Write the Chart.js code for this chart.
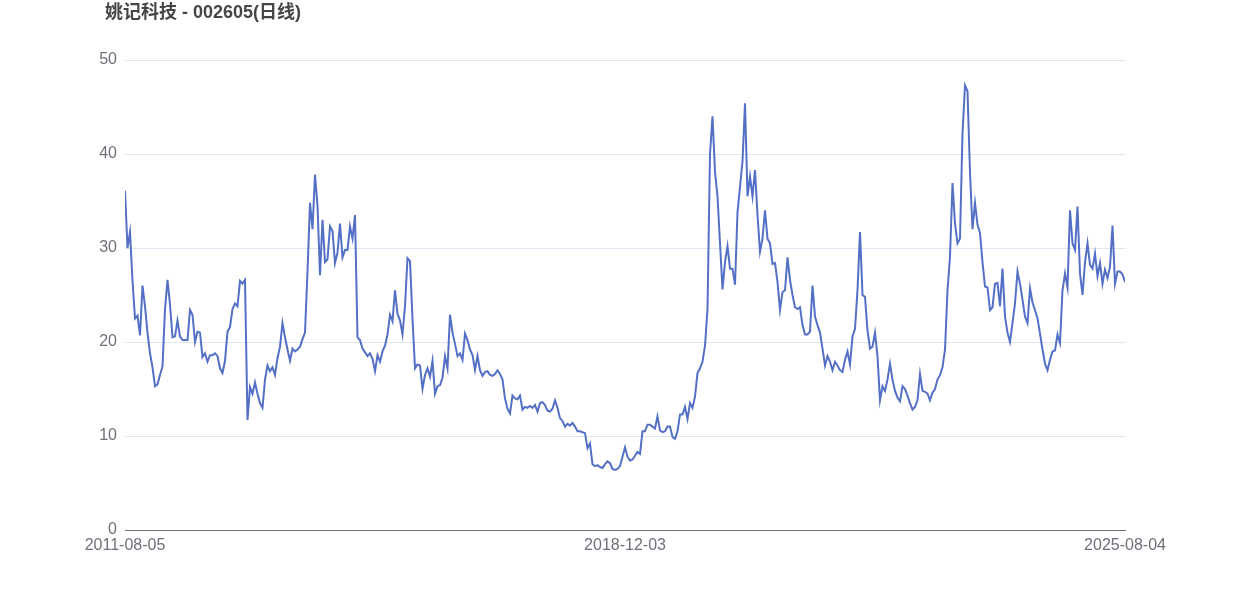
<!DOCTYPE html>
<html>
<head>
<meta charset="utf-8">
<script src="https://cdn.jsdelivr.net/npm/chart.js@4"></script>
<style>
  body { margin: 0; background: #fff; }
  #wrap { width: 1250px; height: 600px; position: relative; }
</style>
</head>
<body>
<div id="wrap"><canvas id="priceChart"></canvas></div>
<script>
// 姚记科技 daily close (evenly spaced samples)
const titleText = '姚记科技 - 002605(日线)';
const tickLabels = ['2011-08-05', '2018-12-03', '2025-08-04'];
const yTicks = [0, 10, 20, 30, 40, 50];

const prices2011to2014 = [
    36.1, 30.0, 31.7, 26.5, 22.5, 22.8, 20.7, 26.0, 23.8, 21.0,
    18.8, 17.3, 15.3, 15.5, 16.5, 17.4, 23.5, 26.6, 24.0, 20.5,
    20.6, 22.3, 20.6, 20.2, 20.2, 20.2, 23.4, 22.9, 20.0, 21.1,
    21.0, 18.4, 18.8, 17.9, 18.6, 18.6, 18.8, 18.5, 17.2, 16.7,
    18.0, 21.1, 21.6, 23.5, 24.1, 23.8, 26.5, 26.2, 26.6, 11.7,
    15.2, 14.5, 15.7, 14.5, 13.5, 13.0, 16.0, 17.5, 16.9, 17.3,
    16.5, 18.3, 19.5, 22.0, 20.5, 19.2, 18.0, 19.3, 19.0, 19.2,
    19.5
];
const prices2015to2017 = [
    20.3, 21.0, 27.5, 34.8, 32.0, 37.8, 34.5, 27.1, 33.0, 28.5,
    28.8, 32.3, 31.8, 28.4, 29.5, 32.6, 29.0, 29.8, 29.8, 32.3,
    31.0, 33.5, 20.5, 20.2, 19.3, 18.9, 18.5, 18.8, 18.2, 16.9,
    18.6, 17.9, 19.0, 19.6, 20.8, 22.9, 22.2, 25.5, 23.0, 22.3,
    20.8, 23.8, 28.9, 28.6, 22.5, 17.2, 17.6, 17.5, 15.0, 16.5,
    17.2, 16.3, 18.0, 14.5, 15.3, 15.4, 16.2, 18.5, 17.2, 22.9,
    21.0, 19.8, 18.5, 18.8, 18.1, 20.9, 20.2, 19.2
];
const prices2018to2019 = [
    18.6, 17.0, 18.5, 17.0, 16.4, 16.8, 16.9, 16.5, 16.4, 16.6,
    17.0, 16.6, 16.0, 14.0, 12.9, 12.4, 14.3, 14.0, 13.9, 14.3,
    12.8, 13.1, 13.0, 13.2, 13.0, 13.3, 12.6, 13.5, 13.6, 13.3,
    12.7, 12.6, 12.9, 13.8, 13.0, 11.9, 11.6, 11.0, 11.3, 11.1,
    11.4, 11.0, 10.5, 10.5, 10.4, 10.3, 8.7, 9.2, 7.0, 6.8,
    6.9, 6.7, 6.6, 7.0, 7.3, 7.1, 6.5, 6.4, 6.5, 6.8,
    7.8, 8.8, 7.8, 7.4, 7.5, 7.9, 8.3, 8.1
];
const prices2019to2021 = [
    10.5, 10.5, 11.2, 11.2, 11.0, 10.8, 12.1, 10.6, 10.4, 10.5,
    11.0, 11.0, 9.9, 9.7, 10.5, 12.3, 12.3, 13.1, 11.8, 13.5,
    13.0, 14.2, 16.7, 17.2, 17.9, 19.6, 23.5, 40.0, 44.0, 38.1,
    35.5, 30.5, 25.6, 28.5, 30.2, 27.8, 27.8, 26.1, 33.8, 36.5,
    39.2, 45.4, 35.5, 37.6, 35.5, 38.3, 33.5, 29.6, 31.0, 34.0,
    31.0, 30.5, 28.3, 28.4, 26.4, 23.4, 25.3, 25.5, 29.0, 26.6,
    25.0, 23.7, 23.5, 23.7
];
const prices2021to2023 = [
    21.8, 20.8, 20.8, 21.1, 26.0, 22.7, 21.8, 21.0, 19.3, 17.5,
    18.5, 17.9, 17.0, 17.9, 17.5, 17.0, 16.8, 18.1, 19.0, 17.6,
    20.6, 21.4, 25.5, 31.7, 25.0, 24.8, 21.2, 19.3, 19.5, 21.0,
    18.5, 13.8, 15.3, 14.8, 16.0, 17.7, 16.0, 14.8, 14.1, 13.7,
    15.3, 15.0, 14.3, 13.5, 12.8, 13.1, 13.8, 16.6, 14.8, 14.7,
    14.5, 13.8, 14.6, 15.0, 16.0, 16.5, 17.3, 19.2, 25.5, 29.1,
    36.9, 32.6, 30.5, 31.0, 42.2, 47.3, 46.7, 38.0
];
const prices2023to2025 = [
    32.0, 34.8, 32.5, 31.6, 28.5, 25.9, 25.8, 23.4, 23.7, 26.2,
    26.3, 23.8, 27.8, 22.7, 21.0, 20.0, 22.0, 24.1, 27.5, 26.2,
    24.5, 22.7, 22.0, 25.7, 24.2, 23.4, 22.5, 20.9, 19.2, 17.7,
    17.0, 18.1, 19.0, 19.1, 20.8, 19.9, 25.5, 27.3, 25.8, 34.0,
    30.5, 29.8, 34.4, 27.3, 25.0, 28.5, 30.5, 28.2, 27.8, 29.4,
    27.0, 28.4, 26.2, 27.7, 26.8, 28.0, 32.4, 26.2, 27.5, 27.5,
    27.2, 26.4
];

const closePrices = [].concat(prices2011to2014, prices2015to2017, prices2018to2019,
    prices2019to2021, prices2021to2023, prices2023to2025);
const lastIndex = closePrices.length - 1;
const tickIndexes = [0, lastIndex / 2, lastIndex];

// draws the title in the top left corner
const titlePlugin = {
    id: 'cornerTitle',
    afterDraw(chart) {
        const ctx = chart.ctx;
        ctx.save();
        ctx.font = 'bold 18px "Liberation Sans", "Noto Sans CJK SC", sans-serif';
        ctx.fillStyle = '#464646';
        ctx.textBaseline = 'middle';
        ctx.textAlign = 'left';
        ctx.fillText(titleText, 105, 13);
        ctx.restore();
    }
};

document.addEventListener('DOMContentLoaded', function() {
    var ctx = document.getElementById('priceChart').getContext('2d');
    var priceChart = new Chart(ctx, {
        type: 'line',
        data: {
            datasets: [{
                label: titleText,
                data: closePrices.map((v, i) => ({ x: i, y: v })),
                borderColor: '#5470c6',
                borderWidth: 2,
                pointRadius: 0,
                tension: 0,
                fill: false
            }]
        },
        options: {
            responsive: true,
            maintainAspectRatio: false,
            animation: false,
            layout: { padding: { top: 60, right: 125, left: 0, bottom: 0 } },
            plugins: {
                legend: { display: false },
                tooltip: { enabled: false }
            },
            scales: {
                x: {
                    type: 'linear',
                    min: 0,
                    max: lastIndex,
                    afterBuildTicks: (axis) => {
                        axis.ticks = tickIndexes.map(v => ({ value: v }));
                    },
                    afterFit: (axis) => { axis.height = 70; },
                    grid: { display: false, drawTicks: false },
                    border: { display: true, color: '#6E7079', width: 1 },
                    ticks: {
                        autoSkip: false,
                        maxRotation: 0,
                        padding: 6,
                        color: '#6E7079',
                        font: { family: '"Liberation Sans", Arial, sans-serif', size: 16 },
                        callback: (value) => tickLabels[tickIndexes.indexOf(value)]
                    }
                },
                y: {
                    min: 0,
                    max: 50,
                    afterBuildTicks: (axis) => {
                        axis.ticks = yTicks.map(v => ({ value: v }));
                    },
                    afterFit: (axis) => { axis.width = 125; },
                    grid: { color: '#E0E6F1', drawTicks: false },
                    border: { display: false },
                    ticks: {
                        padding: 8,
                        color: '#6E7079',
                        font: { family: '"Liberation Sans", Arial, sans-serif', size: 16 }
                    }
                }
            }
        },
        plugins: [titlePlugin]
    });
});
</script>
</body>
</html>
